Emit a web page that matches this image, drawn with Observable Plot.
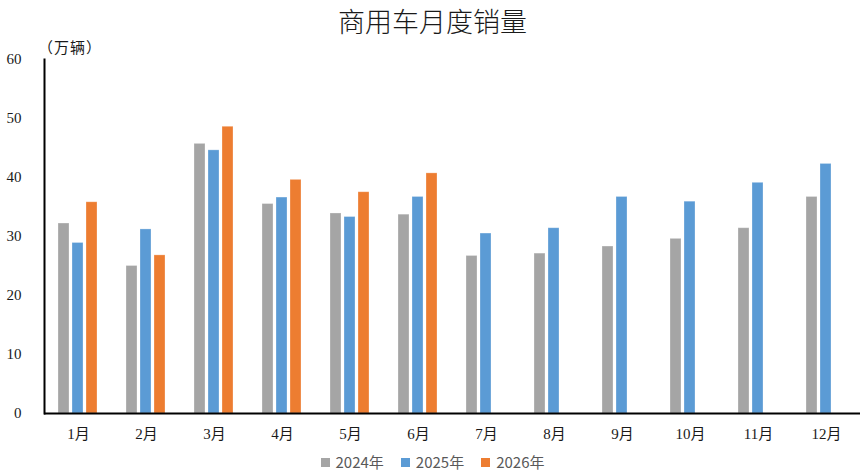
<!DOCTYPE html>
<html>
<head>
<meta charset="utf-8">
<script src="https://cdn.jsdelivr.net/npm/d3@7"></script>
<script src="https://cdn.jsdelivr.net/npm/@observablehq/plot@0.6"></script>
<style>
  body { margin: 0; background: #fff; }
  #wrap { position: relative; width: 865px; height: 473px; font-family: "Liberation Serif", "Noto Sans CJK SC", serif; color: #1a1a1a; }
  #title { position: absolute; top: 4px; left: 0; width: 865px; text-align: center; font-size: 27px; font-family: "Noto Sans CJK SC", sans-serif; font-weight: 300; line-height: 34px; color: #1a1a1a; }
  #unit { position: absolute; top: 38px; left: 38px; font-size: 15px; line-height: 18px; letter-spacing: 1px; font-family: "Noto Sans CJK SC", sans-serif; }
  #legend { position: absolute; top: 452px; left: 0; width: 865px; display: flex; justify-content: center; gap: 17px; font-size: 15px; line-height: 20px; color: #595959; font-family: "Noto Sans CJK SC", sans-serif; }
  #legend span.item { display: flex; align-items: center; gap: 6px; }
  #legend span.sw { display: inline-block; width: 9px; height: 9px; }
  #chart { position: absolute; top: 0; left: 0; }
</style>
</head>
<body>
<div id="wrap">
  <div id="chart"></div>
  <div id="title">商用车月度销量</div>
  <div id="unit">（万辆）</div>
  <div id="legend"></div>
</div>
<script>
// Monthly commercial-vehicle sales, in 10k units
const months = ["1月", "2月", "3月", "4月", "5月", "6月", "7月", "8月", "9月", "10月", "11月", "12月"];
const years = ["2024年", "2025年", "2026年"];
const sales2024 = [32.2, 25.0, 45.7, 35.5, 33.9, 33.7, 26.7, 27.1, 28.3, 29.6, 31.4, 36.7];
const sales2025 = [28.9, 31.2, 44.6, 36.6, 33.3, 36.7, 30.5, 31.4, 36.7, 35.9, 39.1, 42.3];
const sales2026 = [35.8, 26.8, 48.6, 39.6, 37.5, 40.7];
const yTicks = [0, 10, 20, 30, 40, 50, 60];
const colors = ["#A5A5A5", "#5B9BD5", "#ED7D31"];

const series = [sales2024, sales2025, sales2026];
const rows = [];
series.forEach((values, i) => {
  values.forEach((v, j) => rows.push({month: months[j], year: years[i], value: v}));
});

const chart = Plot.plot({
  width: 865,
  height: 473,
  marginTop: 59,
  marginBottom: 60,
  marginLeft: 42,
  marginRight: 4,
  style: {fontFamily: '"Liberation Serif", "Noto Sans CJK SC", serif', fontSize: "15px", color: "#1a1a1a", background: "transparent"},
  fx: {domain: months, padding: 0, axis: "bottom", tickSize: 0, tickPadding: 15, label: null},
  x: {domain: years, paddingInner: 0.2, paddingOuter: 0.92, axis: null},
  y: {domain: [0, 60], ticks: yTicks, tickSize: 0, tickPadding: 23, label: null},
  color: {domain: years, range: colors},
  marks: [
    Plot.barY(rows, {fx: "month", x: "year", y: "value", fill: "year", stroke: "#fff", strokeOpacity: 0.35, strokeWidth: 0.8}),
    Plot.ruleY([0], {stroke: "#000", strokeWidth: 2}),
    Plot.frame({anchor: "left", facetAnchor: "left", stroke: "#000", strokeWidth: 2})
  ]
});
document.getElementById("chart").appendChild(chart);

const legend = document.getElementById("legend");
years.forEach((y, i) => {
  const item = document.createElement("span");
  item.className = "item";
  const sw = document.createElement("span");
  sw.className = "sw";
  sw.style.background = colors[i];
  item.appendChild(sw);
  item.appendChild(document.createTextNode(y));
  legend.appendChild(item);
});
</script>
</body>
</html>
